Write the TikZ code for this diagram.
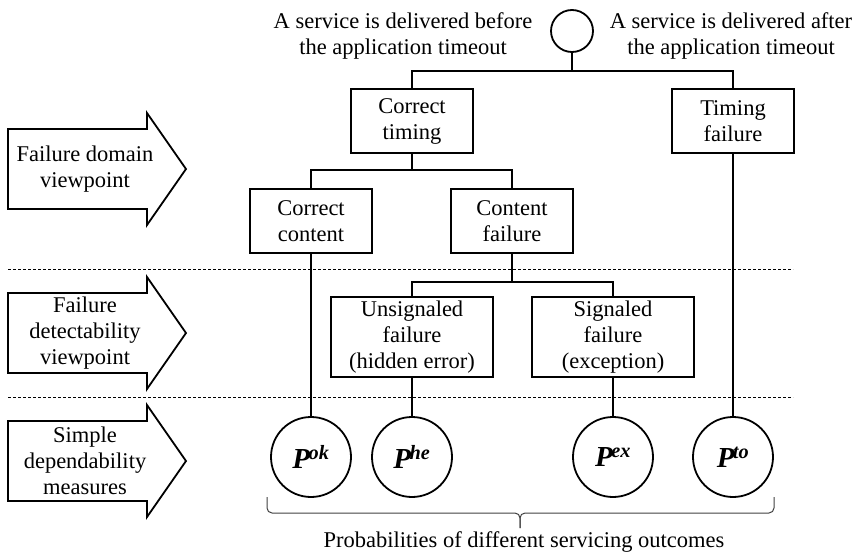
\documentclass[tikz,border=0pt]{standalone}
\usepackage{fontspec}
\setmainfont{Liberation Serif}
\usetikzlibrary{positioning, calc}
\newcommand{\probof}[1]{{\fontsize{29}{30}\selectfont\bfseries\itshape P\kern-1.5pt\textsuperscript{#1}}}
\begin{document}
\begin{tikzpicture}[
  x=1pt, y=-1pt,
  every node/.style={font=\fontsize{22.5}{26}\selectfont},
  treeline/.style={line width=1.8pt, line join=miter},
  catbox/.style={rectangle, draw, line width=1.8pt, minimum width=122, minimum height=64, inner sep=2pt, align=center},
  detbox/.style={catbox, minimum width=162, minimum height=80},
  outcome/.style={circle, draw, line width=1.8pt, minimum size=80, inner sep=0pt},
  rootnode/.style={circle, draw, line width=1.8pt, minimum size=42, inner sep=0pt},
  viewarrow/.style={draw, line width=1.8pt, line join=miter},
  sepline/.style={dashed, dash pattern=on 3pt off 2pt, line width=0.8pt},
  bracket/.style={line width=1pt, black!75, rounded corners=5pt},
  lbl/.style={align=center, inner sep=0pt},
]
\useasboundingbox (0,0) rectangle (860,554);

% viewpoints on the left
\foreach \cy/\txt [count=\i] in {169/{Failure domain\\viewpoint}, 333/{Failure\\detectability\\viewpoint}, 461/{Simple\\dependability\\measures}} {
  \draw[viewarrow] (8,\cy-40) -- (147,\cy-40) -- (147,\cy-56) -- (186,\cy) -- (147,\cy+56) -- (147,\cy+40) -- (8,\cy+40) -- cycle;
  \node[lbl] (view\i) at (85,\cy) {\txt};
}

% separators
\draw[sepline] (8,269) -- (793,269);
\draw[sepline] (8,397) -- (793,397);

% root and its two cases
\node[rootnode] (root) at (572,31) {};
\node[lbl] (before) at (403,36) {A service is delivered before\\the application timeout};
\node[lbl] (after) at (731,36) {A service is delivered after\\the application timeout};

\node[catbox] (ctime) at (412,121) {Correct\\timing};
\node[catbox] (tfail) at (733,121) {Timing\\failure};
\node[catbox] (ccont) at (311,221) {Correct\\content};
\node[catbox] (cfail) at (512,221) {Content\\failure};
\node[detbox] (unsig) at (412,337) {Unsignaled\\failure\\(hidden error)};
\node[detbox] (sig) at (613,337) {Signaled\\failure\\(exception)};

% outcome probabilities
\node[outcome] (pok) at (311,457) {\probof{ok}};
\node[outcome] (phe) at (412,457) {\probof{he}};
\node[outcome] (pex) at (613,457) {\probof{ex}};
\node[outcome] (pto) at (733,457) {\probof{to}};

\draw[treeline] (root.south) -- ++(0,18) -| (ctime.north);
\draw[treeline] (root.south) -- ++(0,18) -| (tfail.north);
\draw[treeline] (ctime.south) -- ++(0,16) -| (ccont.north);
\draw[treeline] (ctime.south) -- ++(0,16) -| (cfail.north);
\draw[treeline] (cfail.south) -- ++(0,28) -| (unsig.north);
\draw[treeline] (cfail.south) -- ++(0,28) -| (sig.north);
\draw[treeline] (ccont) -- (pok);
\draw[treeline] (unsig) -- (phe);
\draw[treeline] (sig) -- (pex);
\draw[treeline] (tfail) -- (pto);

% brace under the outcomes
\coordinate (brl) at (267,497);
\coordinate (brr) at (774,497);
\coordinate (brtip) at (520,528);
\draw[bracket] (brl) -- (267,513) -- (520,513) -- (brtip);
\draw[bracket] (brr) -- (774,513) -- (520,513) -- (brtip);
\node[lbl] (outcomes) at (524,542) {Probabilities of different servicing outcomes};
\end{tikzpicture}
\end{document}
